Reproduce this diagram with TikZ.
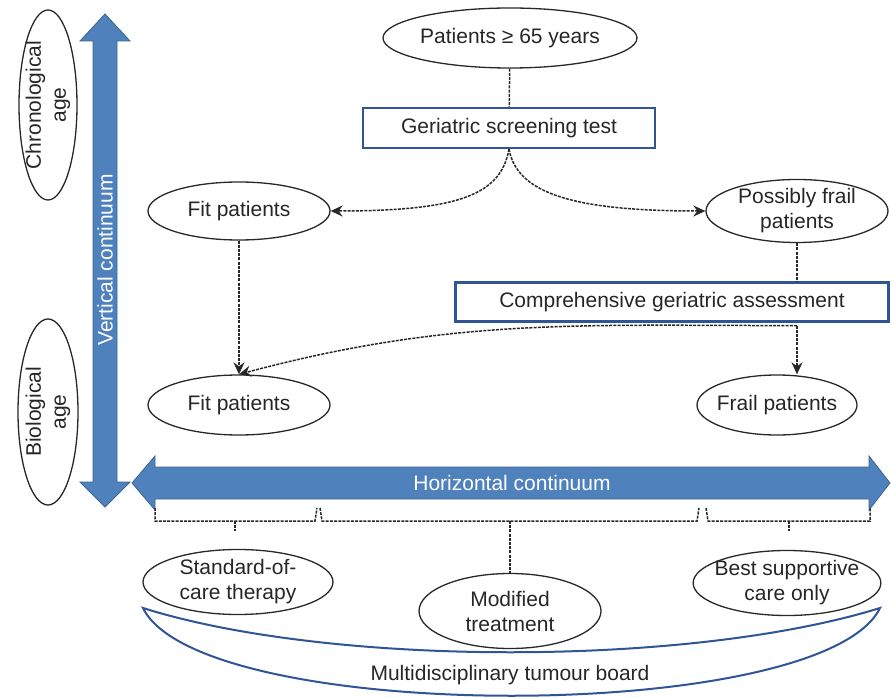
\documentclass[tikz,border=0pt]{standalone}
\usepackage{fontspec}
\setmainfont{Liberation Sans}
\usetikzlibrary{arrows.meta, shapes.geometric}

\definecolor{contblue}{RGB}{79,129,189}
\definecolor{contedge}{RGB}{60,100,150}
\definecolor{boxblue}{RGB}{47,85,151}
\definecolor{linegray}{RGB}{40,40,40}

\begin{document}
\begin{tikzpicture}[
    x=1pt, y=1pt,
    every node/.style={font=\fontsize{21}{25}\selectfont, text=black!85},
    ell/.style={ellipse, draw=linegray, line width=1.3pt, align=center, inner sep=-6pt},
    box/.style={rectangle, draw=boxblue, line width=2.2pt, align=center},
    dline/.style={linegray, line width=1.5pt, dash pattern=on 3pt off 1.2pt},
    arrow/.style={dline, -{Stealth[length=12pt, width=11pt, inset=4pt]}},
    cont/.style={fill=contblue, draw=contedge, line width=0.8pt},
    board/.style={draw=boxblue, line width=2pt}
]
\useasboundingbox (0,0) rectangle (891,697);

% Continuum arrows
\draw[cont] (105,683) -- (130,656) -- (117,656) -- (117,215) -- (130,215) -- (105,190)
    -- (80,215) -- (93,215) -- (93,656) -- (80,656) -- cycle;
\draw[cont] (132,214) -- (155,241) -- (155,230) -- (869,230) -- (869,241) -- (890,214)
    -- (869,187) -- (869,198) -- (155,198) -- (155,187) -- cycle;
\node[rotate=90, text=white] (vcont) at (105,437) {Vertical continuum};
\node[text=white] (hcont) at (512,214) {Horizontal continuum};

% Age ellipses
\node[ell, rotate=90, minimum width=190pt, minimum height=58pt] (chrono) at (48,592) {Chronological\\age};
\node[ell, rotate=90, minimum width=186pt, minimum height=60pt] (bio) at (48,285) {Biological\\age};

% Nodes: screening path
\node[ell, minimum width=254pt, minimum height=60pt] (pat) at (510,659) {Patients ≥ 65 years};
\node[box, minimum width=292pt, minimum height=40pt] (gst) at (509,569) {Geriatric screening test};
\node[ell, minimum width=182pt, minimum height=58pt] (fit1) at (239,486) {Fit patients};
\node[ell, minimum width=182pt, minimum height=63pt] (pfrail) at (797,486) {Possibly frail\\patients};
\node[box, minimum width=433pt, minimum height=39pt] (cga) at (672,395) {Comprehensive geriatric assessment};
\node[ell, minimum width=182pt, minimum height=60pt] (fit2) at (239,292) {Fit patients};
\node[ell, minimum width=160pt, minimum height=60pt] (frail) at (777,292) {Frail patients};

% Nodes: treatment options
\node[ell, minimum width=190pt, minimum height=65pt] (soc) at (238,115) {Standard-of-\\care therapy};
\node[ell, minimum width=182pt, minimum height=75pt] (mod) at (510,86) {Modified\\treatment};
\node[ell, minimum width=185pt, minimum height=65pt] (bsc) at (787,114) {Best supportive\\care only};

% Dashed connectors
\draw[dline] (pat) -- (gst);
\draw[arrow] (gst.south) .. controls +(-8,-45) and +(130,0) .. (fit1.east);
\draw[arrow] (gst.south) .. controls +(8,-45) and +(-130,0) .. (pfrail.west);
\draw[arrow] (fit1) -- (fit2);
\coordinate (cgain) at (pfrail.south |- cga.north);
\coordinate (cgaout) at ([yshift=-3pt]pfrail.south |- cga.south);
\draw[dline] (pfrail.south) -- (cgain);
\draw[arrow] (cgaout) -- (cgaout |- frail.north);
\draw[arrow] (cgaout) to[out=180, in=15] (fit2.north);

% Brackets under the horizontal continuum
\coordinate (b1) at (235,176);
\coordinate (b2) at (510,176);
\coordinate (b3) at (789,176);
\draw[dline] (155,189) -- (155,176) -- (315,176) -- (317,189);
\draw[dline] (320,189) -- (322,176) -- (697,176) -- (699,189);
\draw[dline] (706,189) -- (708,176) -- (870,176) -- (870,189);
\draw[dline] (b1) -- ++(0,-10);
\draw[dline] (b2) -- (mod.north);
\draw[dline] (b3) -- ++(0,-10);

% Multidisciplinary tumour board
\draw[board] (143,89) .. controls (330,30) and (690,30) .. (880,89)
    .. controls (823,-28) and (200,-28) .. cycle;
\node (mdt) at (510,22) {Multidisciplinary tumour board};

\end{tikzpicture}
\end{document}
